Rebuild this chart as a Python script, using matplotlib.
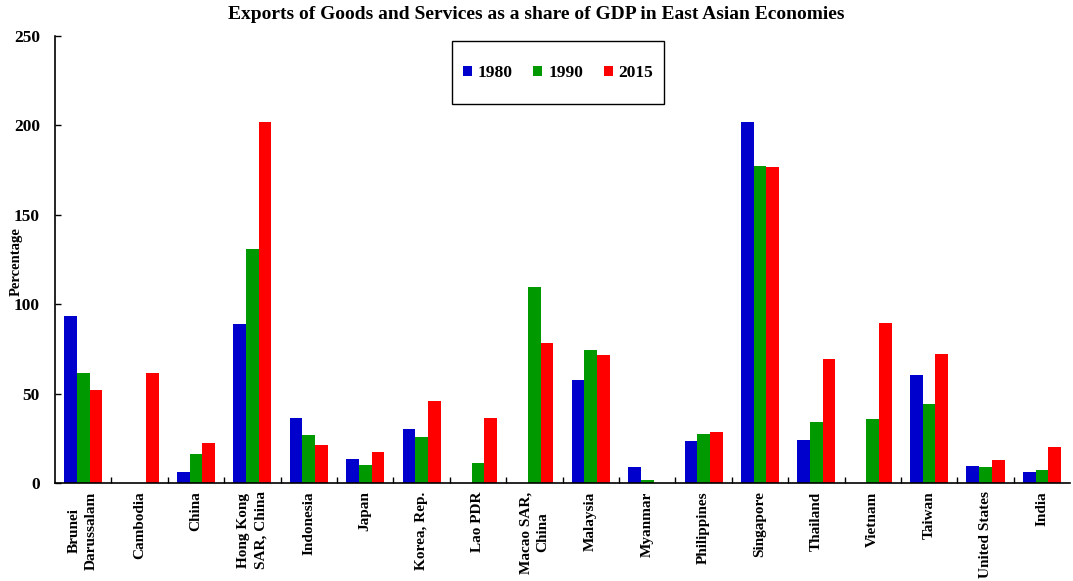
import matplotlib
matplotlib.use("Agg")
import matplotlib.pyplot as plt
from matplotlib.patches import Rectangle
import numpy as np

categories = ["Brunei\nDarussalam", "Cambodia", "China", "Hong Kong\nSAR, China",
              "Indonesia", "Japan", "Korea, Rep.", "Lao PDR", "Macao SAR,\nChina",
              "Malaysia", "Myanmar", "Philippines", "Singapore", "Thailand",
              "Vietnam", "Taiwan", "United States", "India"]
v1980 = [93.4, np.nan, 6.0, 88.7, 36.5, 13.2, 30.2, np.nan, np.nan, 57.6, 9.1, 23.3,
         202.0, 23.9, np.nan, 60.2, 9.7, 6.0]
v1990 = [61.5, np.nan, 16.0, 131.0, 27.0, 10.0, 26.0, 11.2, 109.6, 74.4, 1.7, 27.6,
         177.3, 34.0, 36.0, 44.4, 9.0, 7.1]
v2015 = [52.0, 61.5, 22.2, 202.0, 21.3, 17.2, 46.0, 36.2, 78.3, 71.4, np.nan, 28.5,
         176.7, 69.2, 89.7, 72.3, 12.9, 20.3]
series_labels = ["1980", "1990", "2015"]
colors = ["#0000CC", "#009900", "#FF0000"]

plt.rcParams['font.family'] = ['Liberation Serif', 'DejaVu Serif']
plt.rcParams['font.weight'] = 'bold'

fig = plt.figure(figsize=(10.73, 5.81), dpi=100)
ax = fig.add_axes([0.0513, 0.1687, 0.946, 0.7693])

x = np.arange(len(categories))
w = 0.225
for i, (vals, lab, c) in enumerate(zip([v1980, v1990, v2015], series_labels, colors)):
    ax.bar(x + (i - 1) * w, vals, width=w, color=c, label=lab, linewidth=0)

ax.set_xlim(-0.5, len(categories) - 0.5)
ax.set_ylim(0, 250)
ax.set_yticks([0, 50, 100, 150, 200, 250])
ax.set_xticks(x)
ax.set_xticklabels(categories, rotation=90, fontsize=11, fontweight='bold',
                   ha='center', va='top', multialignment='center', linespacing=1.4)
ax.set_xticks(np.arange(0.5, len(categories) - 0.5, 1), minor=True)
ax.tick_params(axis='x', which='major', length=0, pad=6)
ax.tick_params(axis='x', which='minor', direction='in', length=4, width=1)
ax.tick_params(axis='y', direction='in', length=4, width=1, labelsize=12.5, pad=11)
for lab in ax.get_yticklabels():
    lab.set_fontweight('bold')

ax.spines['top'].set_visible(False)
ax.spines['right'].set_visible(False)
ax.spines['left'].set_linewidth(1.2)
ax.spines['bottom'].set_linewidth(1.2)

fig.text(0.0155, 1 - 262 / 581, "Percentage", rotation=90, fontsize=10.5, fontweight='bold',
         ha='center', va='center')
fig.suptitle("Exports of Goods and Services as a share of GDP in East Asian Economies",
             fontsize=14, fontweight='bold', y=0.99)

# legend frame box
ax.add_patch(Rectangle((0.391, 0.848), 0.2089, 0.141, transform=ax.transAxes,
                       fill=True, facecolor='white', edgecolor='black', linewidth=1.0,
                       zorder=4, clip_on=False))
leg = ax.legend(loc='center', bbox_to_anchor=(0.4956, 0.917), ncol=3, frameon=False,
                handlelength=0.5, handleheight=0.5, handletextpad=0.35,
                columnspacing=1.2, borderpad=0.2,
                prop={'family': 'Liberation Serif', 'weight': 'bold', 'size': 12.5})
leg.set_zorder(5)

fig.savefig("out.png", dpi=100)
